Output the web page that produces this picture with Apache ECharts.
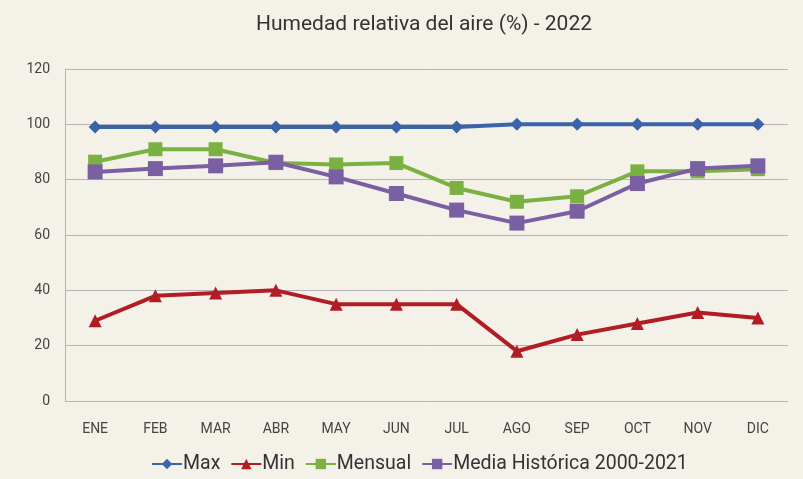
<!DOCTYPE html>
<html>
<head>
<meta charset="utf-8">
<script src="https://cdn.jsdelivr.net/npm/echarts@6/dist/echarts.min.js"></script>
<style>
  html, body { margin: 0; padding: 0; background: #f4f1e9; }
  #chart { width: 803px; height: 479px; }
</style>
</head>
<body>
<div id="chart"></div>
<script>
// month labels
const months = ['ENE', 'FEB', 'MAR', 'ABR', 'MAY', 'JUN', 'JUL', 'AGO', 'SEP', 'OCT', 'NOV', 'DIC'];
const maxValues = [99, 99, 99, 99, 99, 99, 99, 100, 100, 100, 100, 100];
const minValues = [29, 38, 39, 40, 35, 35, 35, 18, 24, 28, 32, 30];
const mensualValues = [86.5, 91, 91, 86, 85.5, 86, 77, 72, 74, 83, 83, 83.8];
const mediaValues = [82.8, 84, 85, 86.3, 81, 75, 69, 64.3, 68.6, 78.6, 84, 85];

const font = 'Roboto, sans-serif';

const mk = (name, data, color, symbol, size) => ({
  name,
  type: 'line',
  data,
  symbol,
  symbolSize: size,
  showAllSymbol: true,
  lineStyle: { color, width: 4 },
  itemStyle: { color },
  emphasis: { disabled: true }
});

const chart = echarts.init(document.getElementById('chart'));
chart.setOption({
  backgroundColor: '#f4f1e9',
  animation: false,
  title: {
    text: 'Humedad relativa del aire (%) - 2022',
    left: 419,
    top: 9,
    textAlign: 'center',
    textStyle: { fontFamily: font, fontSize: 21, fontWeight: 'normal', color: '#333' }
  },
  grid: { left: 65, right: 15, top: 69, bottom: 78 },
  legend: {
    bottom: 0,
    left: 146,
    itemWidth: 30,
    itemHeight: 13,
    itemGap: 10,
    textStyle: { fontFamily: font, fontSize: 19.5, color: '#333', padding: [0, 0, 0, -4] }
  },
  xAxis: {
    type: 'category',
    data: months,
    axisLine: { show: false },
    axisTick: { show: false },
    axisLabel: { fontFamily: font, fontSize: 14, color: '#444', margin: 21 }
  },
  yAxis: {
    type: 'value',
    min: 0,
    max: 120,
    interval: 20,
    axisLine: { show: true, lineStyle: { color: '#b5b5b5', width: 1 } },
    axisTick: { show: false },
    splitLine: { lineStyle: { color: '#b5b5b5', width: 1 } },
    axisLabel: { fontFamily: font, fontSize: 14, color: '#444', margin: 15 }
  },
  series: [
    mk('Max', maxValues, '#3b63a9', 'diamond', 13),
    mk('Min', minValues, '#b21c24', 'triangle', 13),
    mk('Mensual', mensualValues, '#7bb143', 'rect', 14),
    mk('Media Histórica 2000-2021', mediaValues, '#7a5fa2', 'rect', 15)
  ]
});
</script>
</body>
</html>
